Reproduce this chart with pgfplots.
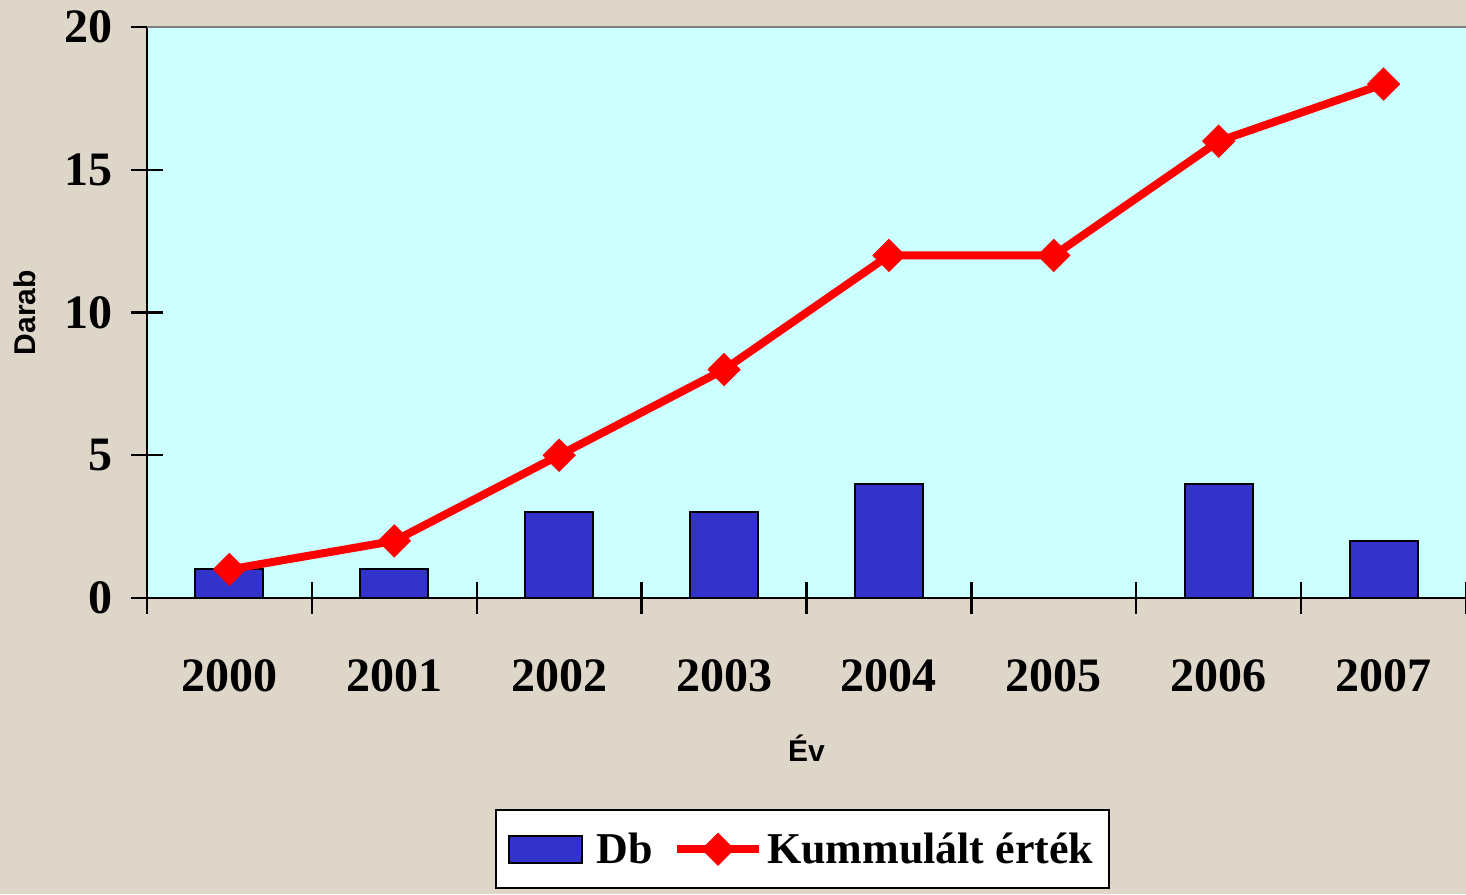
\documentclass[border=0pt]{standalone}
\usepackage{fontspec}
\setmainfont{Liberation Serif}
\setsansfont{Liberation Sans}
\usepackage{pgfplots}
\pgfplotsset{compat=1.18}
\definecolor{bgc}{RGB}{221,214,201}
\definecolor{plotbg}{RGB}{204,255,255}
\definecolor{barblue}{RGB}{51,51,204}
\pgfplotsset{
  barlegend/.style={legend image code/.code={\draw[##1, line width=1pt] (0pt,-6.75pt) rectangle (36.5pt,6.75pt); \path[draw=none, fill=none] (0pt,0pt) -- (42pt,0pt);}},
  linelegend/.style={legend image code/.code={\draw[mark repeat=2, mark phase=2, ##1] plot coordinates {(0pt,0pt) (20.5pt,0pt) (41pt,0pt)};}},
}
\begin{document}
\begin{tikzpicture}
\fill[bgc] (-73.5pt,-148pt) rectangle (659.5pt,299pt);
\begin{axis}[
  at={(0,0)}, anchor=south west,
  scale only axis, width=659.5pt, height=285.5pt,
  xmin=-0.5, xmax=7.5, ymin=0, ymax=20,
  axis lines=left,
  axis line style={-, line width=1.2pt, black},
  axis background/.style={fill=plotbg},
  clip=false,
  xtick={0,...,7},
  xticklabels={2000,2001,2002,2003,2004,2005,2006,2007},
  major x tick style={draw=none},
  minor xtick={-0.5,0.5,...,7.5},
  ytick={0,5,10,15,20},
  tick align=center,
  major tick length=16pt,
  minor tick length=16pt,
  tick style={line width=1.2pt, black},
  /pgf/number format/assume math mode=true,
  tick label style={font=\fontsize{24}{24}\selectfont\bfseries},
  xticklabel style={anchor=center, yshift=-31pt},
  yticklabel style={anchor=east, xshift=-5.5pt},
  xlabel={Év},
  ylabel={Darab},
  every axis x label/.style={at={(axis description cs:0.5,0)}, anchor=center, yshift=-75pt, font=\fontsize{15}{15}\selectfont\sffamily\bfseries},
  every axis y label/.style={at={(axis description cs:0,0.5)}, xshift=-61pt, rotate=90, anchor=center, font=\fontsize{15}{15}\selectfont\sffamily\bfseries},
  legend columns=2,
  legend style={at={(0.497,-0.44)}, anchor=center, draw=black, line width=1pt, fill=white,
    font=\fontsize{22}{22}\selectfont\bfseries,
    inner xsep=6pt, inner ysep=9pt,
    /tikz/every even column/.append style={column sep=8pt}},
]
\draw[gray, line width=1pt] (rel axis cs:0,1) -- (rel axis cs:1,1);
\addplot[ybar, bar width=34pt, fill=barblue, draw=black, line width=1pt, barlegend]
  coordinates {(0,1) (1,1) (2,3) (3,3) (4,4) (6,4) (7,2)};
\addlegendentry{Db}
\addplot[red, line width=4pt, mark=diamond*, mark size=8pt,
  mark options={solid, fill=red, draw=red, line width=0.5pt, xscale=1.33}, linelegend]
  coordinates {(0,1) (1,2) (2,5) (3,8) (4,12) (5,12) (6,16) (7,18)};
\addlegendentry{Kummulált érték}
\end{axis}
\pgfresetboundingbox
\useasboundingbox (-73.5pt,-148pt) rectangle (659.5pt,299pt);
\end{tikzpicture}
\end{document}
